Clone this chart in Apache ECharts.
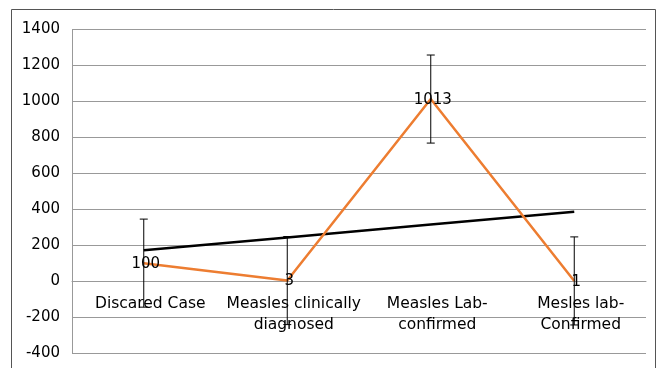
<!DOCTYPE html>
<html>
<head>
<meta charset="utf-8">
<script src="https://cdn.jsdelivr.net/npm/echarts@6/dist/echarts.min.js"></script>
<style>
  html, body { margin: 0; padding: 0; background: #fff; }
  #chart { width: 657px; height: 368px; }
</style>
</head>
<body>
<div id="chart"></div>
<script>
// categories and values
const categories = ["Discared Case", "Measles clinically\ndiagnosed", "Measles Lab-\nconfirmed", "Mesles lab-\nConfirmed"];
const cases = [100, 3, 1013, 1];
const errors = [245, 245, 245, 245];
const trend = [172, 243, 315, 386];

const errorData = cases.map((v, i) => [i, v - errors[i], v + errors[i]]);

const chart = echarts.init(document.getElementById("chart"));
const font = "'DejaVu Sans', sans-serif";

chart.setOption({
  animation: false,
  graphic: [{
    type: "rect",
    shape: { x: 11.5, y: 9.5, width: 644, height: 380 },
    style: { fill: "none", stroke: "#555", lineWidth: 1 },
    z: -10
  }],
  grid: { left: 72, right: 11, top: 29.5, bottom: 15, outerBoundsMode: "none", containLabel: false },
  xAxis: {
    type: "category",
    data: categories,
    offset: -72,
    axisLine: { onZero: false, lineStyle: { color: "#999", width: 1 } },
    axisTick: { show: false },
    axisLabel: {
      color: "#000", fontSize: 15.5, fontFamily: font, margin: 12, lineHeight: 21,
      interval: 0, padding: [0, 0, 0, 13]
    }
  },
  yAxis: {
    type: "value",
    min: -400, max: 1400, interval: 200,
    axisLine: { show: true, lineStyle: { color: "#999" } },
    axisTick: { show: false },
    axisLabel: { color: "#000", fontSize: 15, fontFamily: font, margin: 12, formatter: v => String(v) },
    splitLine: { lineStyle: { color: "#999", width: 1 } }
  },
  series: [
    {
      type: "line",
      data: trend,
      symbol: "none",
      lineStyle: { color: "#000", width: 2.5 },
      z: 2
    },
    {
      type: "line",
      data: cases,
      symbol: "circle",
      symbolSize: 1,
      itemStyle: { color: "rgba(0,0,0,0)" },
      lineStyle: { color: "#ED7D31", width: 2.5 },
      label: { show: true, position: "inside", color: "#000", fontSize: 15, fontFamily: font, offset: [2, 1] },
      z: 3
    },
    {
      type: "custom",
      data: errorData,
      z: 4,
      renderItem(params, api) {
        const lo = api.coord([api.value(0), api.value(1)]);
        const hi = api.coord([api.value(0), api.value(2)]);
        const w = 4;
        const s = { stroke: "#000", lineWidth: 1 };
        return {
          type: "group",
          children: [
            { type: "line", shape: { x1: hi[0], y1: hi[1], x2: lo[0], y2: lo[1] }, style: s },
            { type: "line", shape: { x1: hi[0] - w, y1: hi[1], x2: hi[0] + w, y2: hi[1] }, style: s },
            { type: "line", shape: { x1: lo[0] - w, y1: lo[1], x2: lo[0] + w, y2: lo[1] }, style: s }
          ]
        };
      }
    }
  ]
});
</script>
</body>
</html>
